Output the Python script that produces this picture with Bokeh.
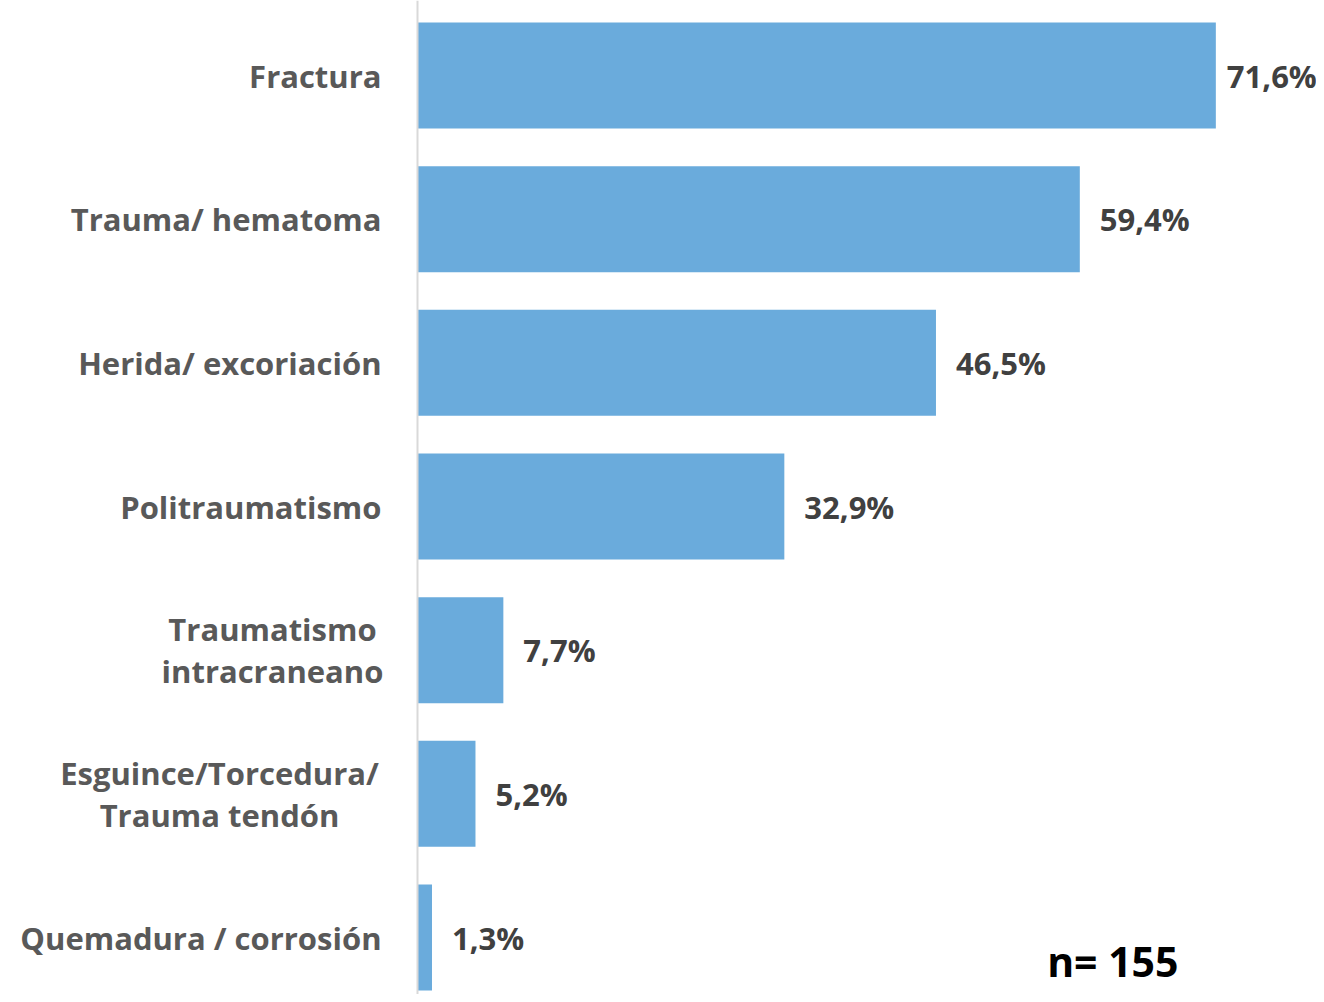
from bokeh.plotting import figure
from bokeh.models import ColumnDataSource, Range1d, Span, Label
from bokeh.core.properties import value
from bokeh.embed import file_html
from bokeh.resources import INLINE

categories = ["Fractura", "Trauma/ hematoma", "Herida/ excoriación", "Politraumatismo",
              "Traumatismo\nintracraneano", "Esguince/Torcedura/\nTrauma tendón",
              "Quemadura / corrosión"]
values = [71.6, 59.4, 46.5, 32.9, 7.7, 5.2, 1.3]
value_labels = ["71,6%", "59,4%", "46,5%", "32,9%", "7,7%", "5,2%", "1,3%"]
note = "n= 155"

W, H = 1316, 994
axis_px = 417
px_per_unit = 11.15
row_px = 143.67
first_px = 75

x_start = -axis_px / px_per_unit
x_end = (W - axis_px) / px_per_unit
y_top = -first_px / row_px
y_bot = (H - first_px) / row_px

p = figure(width=W, height=H, output_backend="svg", toolbar_location=None,
           x_range=Range1d(x_start, x_end), y_range=Range1d(y_bot, y_top),
           min_border=0, min_border_left=0, min_border_right=0,
           min_border_top=0, min_border_bottom=0)
p.axis.visible = False
p.grid.visible = False
p.outline_line_color = None
p.background_fill_color = "white"
p.border_fill_color = "white"

ys = list(range(len(categories)))
# longest bar's label is pulled closer to fit inside the canvas
label_offsets = [11 if v == max(values) else 20 for v in values]
src = ColumnDataSource(dict(y=ys, v=values, lab=value_labels, off=label_offsets))

p.add_layout(Span(location=0, dimension="height", line_color="#D9D9D9", line_width=2))

p.hbar(y="y", left=0, right="v", height=0.738, source=src,
       fill_color="#6AABDC", line_color=None)

p.text(x="v", y="y", text="lab", source=src, x_offset="off",
       text_align="left", text_baseline="middle",
       text_font=value("Open Sans"), text_font_style="bold",
       text_font_size="31px", text_color="#404040")

# category labels: single-line right aligned, two-line centred
single = [i for i, c in enumerate(categories) if "\n" not in c]
multi = [i for i, c in enumerate(categories) if "\n" in c]
s1 = ColumnDataSource(dict(y=[ys[i] for i in single], cat=[categories[i] for i in single],
                           zero=[0] * len(single)))
p.text(x="zero", y="y", text="cat", source=s1, x_offset=-36,
       text_align="right", text_baseline="middle",
       text_font=value("Open Sans"), text_font_style="bold",
       text_font_size="31px", text_color="#595959")
centre_offsets = {4: -145, 5: -198}
for i in multi:
    p.text(x=[0], y=[ys[i]], text=[categories[i]], x_offset=centre_offsets[i],
           text_align="center", text_baseline="middle", text_line_height=1.0,
           text_font=value("Open Sans"), text_font_style="bold",
           text_font_size="31px", text_color="#595959")

p.add_layout(Label(x=(1178 - axis_px) / px_per_unit, y=(960 - first_px) / row_px,
                   text=note, text_align="right", text_baseline="middle",
                   text_font="Open Sans", text_font_style="bold",
                   text_font_size="41px", text_color="#000000"))

open("out.html", "w").write(file_html(p, INLINE))
